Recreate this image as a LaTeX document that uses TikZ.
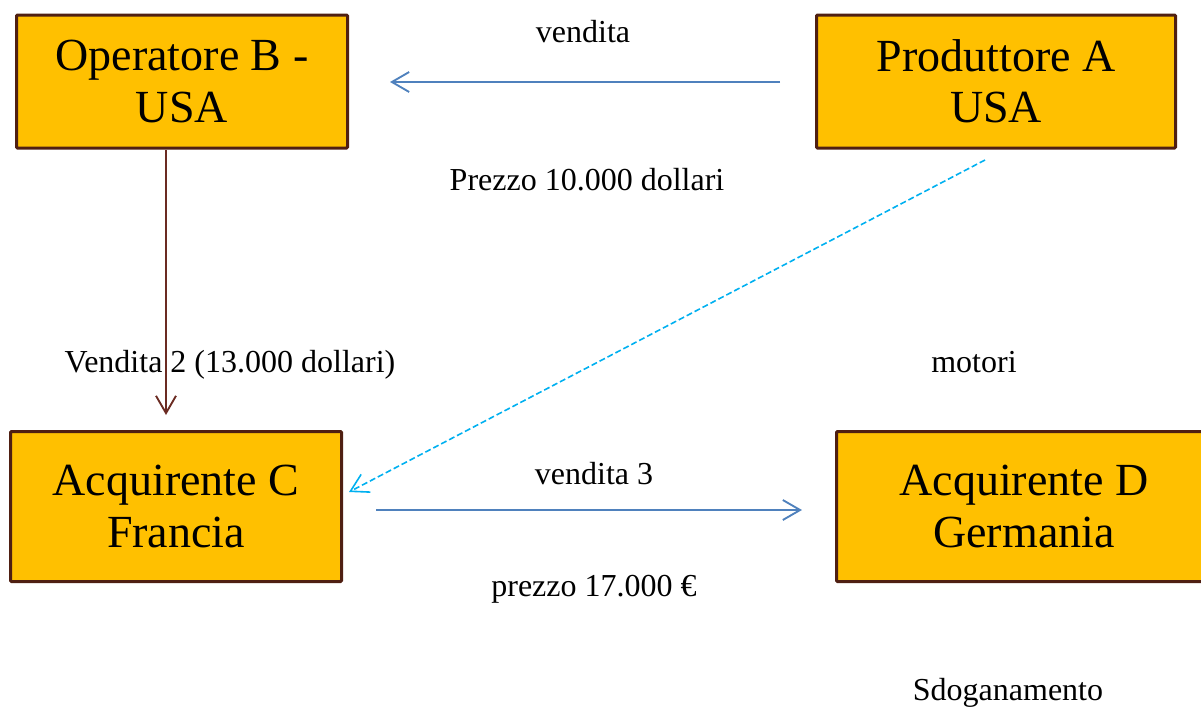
\documentclass[tikz,border=0pt]{standalone}
\usepackage{fontspec}
\setmainfont{Liberation Serif}
\usetikzlibrary{arrows.meta}
\definecolor{boxfill}{HTML}{FFC000}
\definecolor{boxline}{HTML}{4F1F12}
\definecolor{blueline}{HTML}{4F81BD}
\definecolor{brownline}{HTML}{6B2B22}
\definecolor{cyanline}{HTML}{00B0F0}
\begin{document}
\begin{tikzpicture}[x=0.75pt,y=-0.75pt,
  party/.style={draw=boxline, line width=2.25pt, fill=boxfill, rounded corners=0.75pt,
    align=center, inner sep=0pt, font=\fontsize{34.5}{38.5}\selectfont},
  lbl/.style={font=\fontsize{24}{28}\selectfont, inner sep=0pt, anchor=base},
  tipb/.style={-{Straight Barb[length=13pt,width=15pt]}},
  flow/.style={tipb, draw=blueline, line width=1.4pt},
  sale/.style={tipb, draw=brownline, line width=1.4pt},
  goods/.style={tipb, draw=cyanline, line width=1.2pt, dash pattern=on 4.5pt off 2.2pt}
]
\useasboundingbox (0,0) rectangle (1201,707);
\begin{scope}
\clip (0,0) rectangle (1201,707);
\node[party, minimum width=248.25pt, minimum height=99.75pt] (B) at (182,81.5) {Operatore B -\\USA};
\node[party, minimum width=269.25pt, minimum height=99.75pt] (A) at (996,81.5) {Produttore A\\USA};
\node[party, minimum width=248.25pt, minimum height=112.5pt] (C) at (176,506.5) {Acquirente C\\Francia};
\node[party, minimum width=281.25pt, minimum height=112.5pt] (D) at (1024,506.5) {Acquirente D\\Germania};
\end{scope}

\node[lbl] (l1) at (583,42) {vendita};
\node[lbl] (l2) at (587,190) {Prezzo 10.000 dollari};
\node[lbl] (l3) at (230,372) {Vendita 2 (13.000 dollari)};
\node[lbl] (l4) at (974,372) {motori};
\node[lbl] (l5) at (594,484) {vendita 3};
\node[lbl] (l6) at (594,596) {prezzo 17.000 €};
\node[lbl] (l7) at (1008,700) {Sdoganamento};

\coordinate (v1s) at (780,82);
\coordinate (v1e) at (390,82);
\coordinate (v2s) at (166,150);
\coordinate (v2e) at (166,415);
\coordinate (ms) at (985,160);
\coordinate (me) at (349,492);
\coordinate (v3s) at (376,510);
\coordinate (v3e) at (802,510);

\draw[flow] (v1s) -- (v1e);
\draw[sale] (v2s) -- (v2e);
\draw[goods] (ms) -- (me);
\draw[flow] (v3s) -- (v3e);
\end{tikzpicture}
\end{document}
